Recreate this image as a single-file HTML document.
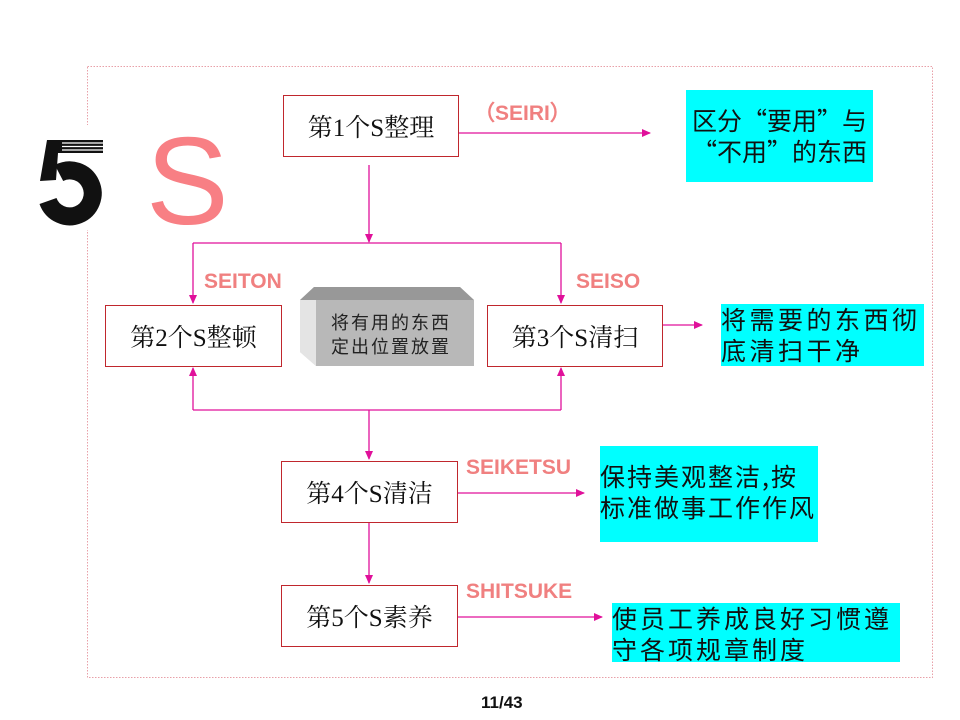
<!DOCTYPE html>
<html><head><meta charset="utf-8"><style>
html,body{margin:0;padding:0;background:#fff;}
#c{position:relative;width:960px;height:720px;overflow:hidden;font-family:"Liberation Serif","Noto Serif CJK SC","Noto Sans CJK SC",serif;}
.b{position:absolute;border:1.5px solid #c0272d;box-sizing:border-box;background:#fff;display:flex;align-items:center;justify-content:center;font-size:25px;color:#111;}
.cy{position:absolute;background:#00ffff;font-family:"Noto Sans CJK SC",sans-serif;font-size:25px;line-height:31px;color:#111;white-space:nowrap;}
.lb{position:absolute;font-family:"Liberation Sans",sans-serif;font-weight:bold;font-size:21px;color:#f08080;}
</style></head><body><div id="c">
<svg width="960" height="720" style="position:absolute;left:0;top:0">
<defs><marker id="a" markerWidth="10" markerHeight="10" refX="8" refY="4" orient="auto" markerUnits="userSpaceOnUse"><path d="M0,0 L9,4 L0,8 Z" fill="#e0109a"/></marker></defs>
<rect x="87.5" y="66.5" width="845" height="611" fill="none" stroke="#e8a0a8" stroke-width="1" stroke-dasharray="1.5,1.5"/>
<rect x="22" y="125" width="96" height="105" fill="#fff"/>
<g fill="#111">
<path d="M47,140 L103,140 L103,153 L58,153 L56,180 L40,181 Z"/>
</g>
<path d="M59,173 A23,23 0 1 1 48,201" fill="none" stroke="#111" stroke-width="18"/>
<g stroke="#fff" stroke-width="1.2"><line x1="62" y1="143" x2="104" y2="143"/><line x1="62" y1="146.5" x2="104" y2="146.5"/><line x1="62" y1="150" x2="104" y2="150"/></g>
<g stroke="#e0109a" stroke-width="1.3" fill="none">
<line x1="369" y1="165" x2="369" y2="242" marker-end="url(#a)"/>
<polyline points="193,243 561,243"/>
<line x1="193" y1="243" x2="193" y2="303" marker-end="url(#a)"/>
<line x1="561" y1="243" x2="561" y2="303" marker-end="url(#a)"/>
<line x1="193" y1="410" x2="193" y2="368" marker-end="url(#a)"/>
<line x1="561" y1="410" x2="561" y2="368" marker-end="url(#a)"/>
<polyline points="193,410 561,410"/>
<line x1="369" y1="410" x2="369" y2="459" marker-end="url(#a)"/>
<line x1="369" y1="523" x2="369" y2="583" marker-end="url(#a)"/>
<line x1="458" y1="133" x2="650" y2="133" marker-end="url(#a)"/>
<line x1="662" y1="325" x2="702" y2="325" marker-end="url(#a)"/>
<line x1="458" y1="493" x2="584" y2="493" marker-end="url(#a)"/>
<line x1="458" y1="617" x2="602" y2="617" marker-end="url(#a)"/>
</g>
<polygon points="300,300 314,287 460,287 474,300 474,366 316,366 300,352" fill="#d8d8d8"/>
<polygon points="300,300 314,287 460,287 474,300" fill="#989898"/>
<rect x="316" y="300" width="158" height="66" fill="#b8b8b8"/>
<polygon points="300,300 316,300 316,366 300,352" fill="#e4e4e4"/>
</svg>
<div style="position:absolute;left:146px;top:112px;font-family:'Liberation Sans',sans-serif;font-size:124px;color:#f87f84;line-height:140px;">S</div>
<div style="position:absolute;left:331px;top:310px;width:140px;font-family:'Noto Sans CJK SC',sans-serif;font-size:18px;letter-spacing:2px;line-height:24px;color:#222;white-space:nowrap;">将有用的东西<br>定出位置放置</div>
<div class="b" style="left:283px;top:95px;width:176px;height:62px;">第1个S整理</div>
<div class="b" style="left:105px;top:305px;width:177px;height:62px;">第2个S整顿</div>
<div class="b" style="left:487px;top:305px;width:176px;height:62px;">第3个S清扫</div>
<div class="b" style="left:281px;top:461px;width:177px;height:62px;">第4个S清洁</div>
<div class="b" style="left:281px;top:585px;width:177px;height:62px;">第5个S素养</div>
<div class="lb" style="left:474px;top:97px;">（SEIRI）</div>
<div class="lb" style="left:204px;top:270px;">SEITON</div>
<div class="lb" style="left:576px;top:270px;">SEISO</div>
<div class="lb" style="left:466px;top:456px;">SEIKETSU</div>
<div class="lb" style="left:466px;top:580px;">SHITSUKE</div>
<div class="cy" style="left:686px;top:90px;width:187px;height:92px;padding-top:15px;box-sizing:border-box;text-align:center;letter-spacing:0px;">区分“要用”与<br>“不用”的东西</div>
<div class="cy" style="left:721px;top:304px;width:203px;height:62px;padding-top:0px;box-sizing:border-box;letter-spacing:3.5px;">将需要的东西彻<br>底清扫干净</div>
<div class="cy" style="left:600px;top:446px;width:218px;height:96px;padding-top:15px;box-sizing:border-box;letter-spacing:2px;">保持美观整洁,按<br>标准做事工作作风</div>
<div class="cy" style="left:612px;top:603px;width:288px;height:59px;padding-top:0px;box-sizing:border-box;letter-spacing:3px;">使员工养成良好习惯遵<br>守各项规章制度</div>
<div style="position:absolute;left:481px;top:693px;font-family:'Liberation Sans',sans-serif;font-weight:bold;font-size:17px;color:#111;">11/43</div>
</div></body></html>
